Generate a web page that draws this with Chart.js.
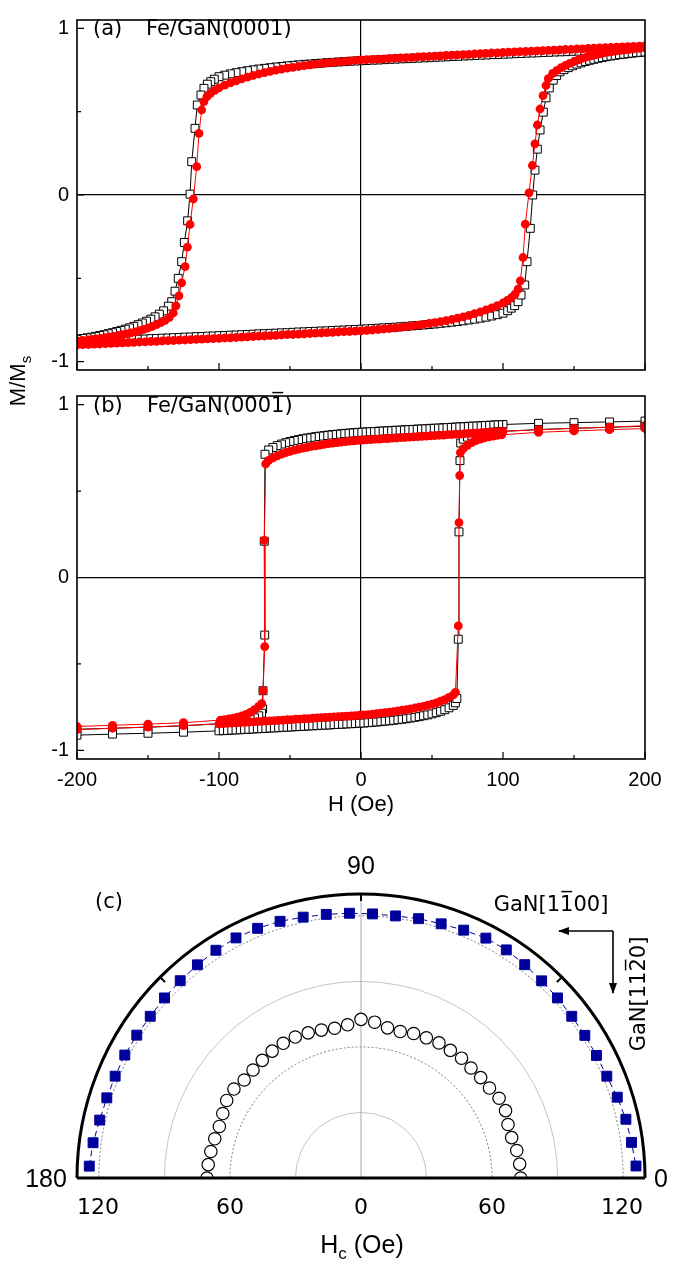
<!DOCTYPE html>
<html>
<head>
<meta charset="utf-8">
<script src="https://cdn.jsdelivr.net/npm/chart.js"></script>
<style>
html, body { margin: 0; padding: 0; width: 682px; height: 1264px; overflow: hidden; background: #fff; }
canvas { position: absolute; left: 0; }
.t { position: absolute; white-space: nowrap; line-height: 1; color: #000; transform: translate(-50%, -50%); }
.l { position: absolute; white-space: nowrap; line-height: 1; color: #000; transform: translateY(-50%); }
.dv { font-family: 'DejaVu Sans', sans-serif; }
.ls { font-family: 'Liberation Sans', Arial, sans-serif; }
</style>
</head>
<body>
<canvas id="loopA" width="682" height="390" style="top:0"></canvas>
<canvas id="loopB" width="682" height="454" style="top:376px"></canvas>
<canvas id="polarGrid" width="682" height="612" style="top:850px"></canvas>
<canvas id="polarBlue" width="682" height="612" style="top:850px"></canvas>

<div class="t ls" style="left:20px;top:381px;font-size:22px;transform:translate(-50%,-50%) rotate(-90deg)">M/M<sub style="font-size:15px">s</sub></div>
<div class="l dv" style="left:93px;top:28px;font-size:21px">(a)</div>
<div class="l dv" style="left:146px;top:28px;font-size:21px">Fe/GaN(0001)</div>
<div class="l dv" style="left:93px;top:405px;font-size:21px">(b)</div>
<div class="l dv" style="left:147px;top:405px;font-size:21px">Fe/GaN(0001&#x305;)</div>

<div class="t dv" style="left:109px;top:901px;font-size:21px">(c)</div>
<div class="t ls" style="left:361px;top:865px;font-size:25px">90</div>
<div class="t ls" style="left:46px;top:1178px;font-size:25px">180</div>
<div class="t ls" style="left:661px;top:1178px;font-size:25px">0</div>
<div class="t dv" style="left:98px;top:1207px;font-size:22px">120</div>
<div class="t dv" style="left:230px;top:1207px;font-size:22px">60</div>
<div class="t dv" style="left:361px;top:1207px;font-size:22px">0</div>
<div class="t dv" style="left:492px;top:1207px;font-size:22px">60</div>
<div class="t dv" style="left:622px;top:1207px;font-size:22px">120</div>
<div class="t ls" style="left:362px;top:1247px;font-size:25px">H<sub style="font-size:17px">c</sub> (Oe)</div>
<div class="t dv" style="left:551px;top:904px;font-size:21px">GaN[11&#x305;00]</div>
<div class="t dv" style="left:638px;top:994px;font-size:21px;transform:translate(-50%,-50%) rotate(-90deg)">GaN[112&#x305;0]</div>
<svg style="position:absolute;left:540px;top:915px" width="90" height="90">
  <defs>
    <marker id="ah" markerWidth="11" markerHeight="8" refX="10" refY="4" orient="auto" markerUnits="userSpaceOnUse">
      <path d="M0,0 L11,4 L0,8 z" fill="#000"/>
    </marker>
  </defs>
  <path d="M73,16 L19,16" stroke="#000" stroke-width="1.6" fill="none" marker-end="url(#ah)"/>
  <path d="M73,16 L73,78" stroke="#000" stroke-width="1.6" fill="none" marker-end="url(#ah)"/>
</svg>

<script>
// tick values
const hTicks = [-200, -150, -100, -50, 0, 50, 100, 150, 200];
const mTicks = [-1, -0.5, 0, 0.5, 1];
const polarGridValues = [0, 30, 60, 90, 120, 130];

// (a) Fe/GaN(0001) - field grids
const aGridDown = [200,196,192,188,184,180,176,172,168,164,160,156,152,148,144,140,136,132,128,124,120,116,112,108,104,100,
  96,92,88,84,80,76,72,68,64,60,56,52,48,44,40,36,32,28,24,20,16,12,8,4,0,
  -4,-8,-12,-16,-20,-24,-28,-32,-36,-40,-44,-48,-52,-56,-60,-64,-68,-72,-76,-80,-84,-88,-92,-96,-100];
const aGridUp = [-200,-196,-192,-188,-184,-180,-176,-172,-168,-164,-160,-156,-152,-148,-144,-140,-136,-132,-128,-124,-120,-116,-112,-108,-104,-100,
  -96,-92,-88,-84,-80,-76,-72,-68,-64,-60,-56,-52,-48,-44,-40,-36,-32,-28,-24,-20,-16,-12,-8,-4,0,
  4,8,12,16,20,24,28,32,36,40,44,48,52,56,60,64,68,72,76,80,84,88,92,96,100];

const aBlackDownH = aGridDown.concat([-103.3,-105.8,-108.2,-110.6,-112.7,-115.3,-116.9,-119.2,-120.4,-122.1,-124.4,-126.3,-128.7,-131,-133.3,-135.7,
  -139,-142,-145,-148,-151,-154,-157,-160,-163,-166,-169,-172,-175,-178,-181,-184,-187,-190,-193,-196,-200]);
const aBlackDownM = [0.880,0.879,0.877,0.876,0.874,0.873,0.872,0.870,0.869,0.867,0.866,0.865,0.863,0.862,0.860,0.859,0.858,0.856,0.855,0.853,0.852,0.851,0.849,0.848,0.846,0.845,
  0.843,0.842,0.840,0.839,0.837,0.835,0.834,0.832,0.831,0.829,0.828,0.826,0.824,0.823,0.821,0.820,0.818,0.817,0.815,0.814,0.812,0.810,0.809,0.807,0.806,
  0.804,0.802,0.800,0.798,0.796,0.794,0.791,0.789,0.786,0.784,0.781,0.778,0.775,0.771,0.768,0.764,0.760,0.756,0.751,0.746,0.740,0.734,0.727,0.719,0.710,
  0.695,0.680,0.665,0.640,0.600,0.540,0.400,0.200,0.005,-0.155,-0.285,-0.400,-0.500,-0.577,-0.640,-0.667,
  -0.695,-0.715,-0.731,-0.745,-0.757,-0.768,-0.778,-0.788,-0.797,-0.805,-0.812,-0.819,-0.826,-0.832,-0.838,-0.843,-0.848,-0.853,-0.857,-0.861,-0.866];

const aBlackUpH = aGridUp.concat([103.3,105.8,108.2,110.6,112.7,115.3,116.9,119.2,120.9,122.5,124.2,126.1,128.4,130.3,132.6,135.4,137.8,140.1,
  143,146,149,152,155,158,161,164,167,170,173,176,179,182,185,188,191,194,197,200]);
const aBlackUpM = [-0.882,-0.880,-0.879,-0.877,-0.876,-0.874,-0.873,-0.871,-0.870,-0.868,-0.867,-0.865,-0.864,-0.862,-0.861,-0.859,-0.858,-0.856,-0.855,-0.853,-0.852,-0.850,-0.849,-0.847,-0.846,-0.844,
  -0.843,-0.841,-0.840,-0.838,-0.837,-0.835,-0.833,-0.832,-0.830,-0.829,-0.827,-0.826,-0.824,-0.822,-0.821,-0.819,-0.818,-0.816,-0.815,-0.813,-0.811,-0.810,-0.808,-0.807,-0.805,
  -0.803,-0.801,-0.799,-0.797,-0.795,-0.793,-0.790,-0.788,-0.785,-0.783,-0.780,-0.777,-0.774,-0.770,-0.767,-0.763,-0.759,-0.755,-0.750,-0.745,-0.739,-0.733,-0.726,-0.718,-0.709,
  -0.694,-0.679,-0.664,-0.640,-0.600,-0.540,-0.400,-0.200,0.000,0.149,0.275,0.390,0.497,0.583,0.642,0.689,0.717,0.739,
  0.752,0.764,0.775,0.785,0.793,0.801,0.808,0.814,0.820,0.825,0.830,0.834,0.838,0.842,0.845,0.848,0.851,0.854,0.856,0.858];

const aRedDownH = aGridDown.concat([-103,-106,-108.5,-110.6,-112.2,-114.1,-115.7,-118.1,-120.4,-122.3,-123.9,-126.3,-128.2,-130.3,-132.2,
  -135,-138,-141,-144,-147,-150,-153,-156,-159,-162,-165,-168,-171,-174,-177,-180,-183,-186,-189,-192,-196,-200]);
const aRedDownM = [0.895,0.893,0.892,0.890,0.889,0.887,0.885,0.884,0.882,0.881,0.879,0.877,0.876,0.874,0.873,0.871,0.869,0.868,0.866,0.865,0.863,0.861,0.860,0.858,0.857,0.855,
  0.853,0.852,0.850,0.848,0.846,0.844,0.842,0.841,0.839,0.837,0.835,0.833,0.832,0.830,0.828,0.826,0.824,0.823,0.821,0.819,0.817,0.815,0.814,0.812,0.810,
  0.808,0.805,0.802,0.799,0.796,0.793,0.789,0.785,0.781,0.776,0.771,0.766,0.761,0.755,0.749,0.742,0.734,0.726,0.717,0.707,0.697,0.685,0.673,0.659,0.643,
  0.628,0.610,0.590,0.560,0.510,0.370,0.170,-0.024,-0.177,-0.313,-0.430,-0.527,-0.605,-0.665,-0.708,
  -0.735,-0.752,-0.766,-0.778,-0.789,-0.798,-0.806,-0.814,-0.821,-0.827,-0.833,-0.838,-0.843,-0.848,-0.852,-0.856,-0.860,-0.863,-0.866,-0.869,-0.872,-0.875];

const aRedUpH = aGridUp.concat([103,106,108.5,110.6,112.2,114.1,115.7,118.3,120.7,122.5,124.2,126.1,128.2,130.3,131.9,
  135,138,141,144,147,150,153,156,159,162,165,168,171,174,177,180,183,186,189,192,196,200]);
const aRedUpM = [-0.900,-0.898,-0.897,-0.895,-0.894,-0.892,-0.890,-0.889,-0.887,-0.886,-0.884,-0.882,-0.881,-0.879,-0.878,-0.876,-0.874,-0.873,-0.871,-0.870,-0.868,-0.866,-0.865,-0.863,-0.862,-0.860,
  -0.858,-0.857,-0.855,-0.853,-0.851,-0.849,-0.847,-0.846,-0.844,-0.842,-0.840,-0.838,-0.837,-0.835,-0.833,-0.831,-0.829,-0.828,-0.826,-0.824,-0.822,-0.820,-0.819,-0.817,-0.815,
  -0.813,-0.810,-0.807,-0.804,-0.801,-0.798,-0.794,-0.790,-0.786,-0.781,-0.776,-0.771,-0.766,-0.760,-0.754,-0.747,-0.739,-0.731,-0.722,-0.712,-0.702,-0.690,-0.678,-0.664,-0.648,
  -0.633,-0.615,-0.595,-0.565,-0.515,-0.375,-0.175,0.013,0.177,0.307,0.420,0.516,0.596,0.657,0.698,
  0.730,0.748,0.764,0.778,0.790,0.801,0.811,0.820,0.828,0.835,0.841,0.847,0.852,0.857,0.861,0.865,0.868,0.871,0.874,0.877,0.880,0.883];

// (b) Fe/GaN(000-1) - field grids
const bDenseDown = [100,97,94,91,88,85,82,79,76,73,70,67,64,61,58,55,52,49,46,43,40,37,34,31,28,25,22,19,16,13,10,7,4,1,-2,-5,-8,-11,-14,-17,-20,-23,-26,-29,-32,-35,-38,-41,-44,-47,-50,-53,-56,-59,-62,-65];
const bDenseUp = [-100,-97,-94,-91,-88,-85,-82,-79,-76,-73,-70,-67,-64,-61,-58,-55,-52,-49,-46,-43,-40,-37,-34,-31,-28,-25,-22,-19,-16,-13,-10,-7,-4,-1,2,5,8,11,14,17,20,23,26,29,32,35,38,41,44,47,50,53,56,59,62,65];

const bBlackDownH = [200,175,150,125].concat(bDenseDown, [-67.6,-68.1,-67.8,-69,-69.3,-70,-72,-75,-78,-81,-84,-87,-90,-93,-96,-99,-125,-150,-175,-200]);
const bBlackDownM = [0.905,0.900,0.896,0.892,
  0.885,0.884,0.883,0.881,0.880,0.879,0.877,0.876,0.875,0.873,0.872,0.871,0.869,0.868,0.867,0.865,0.864,0.863,0.861,0.860,0.859,0.857,0.856,0.855,0.853,0.852,0.851,0.849,0.848,0.847,0.845,0.844,0.843,0.841,
  0.840,0.838,0.836,0.834,0.832,0.829,0.827,0.824,0.821,0.818,0.815,0.811,0.807,0.803,0.798,0.793,0.787,0.780,0.772,0.763,0.752,0.738,
  0.713,0.210,-0.333,-0.655,-0.760,-0.785,
  -0.800,-0.812,-0.820,-0.826,-0.831,-0.835,-0.838,-0.841,-0.843,-0.845,
  -0.858,-0.866,-0.872,-0.878];

const bBlackUpH = [-200,-175,-150,-125].concat(bDenseUp, [66.5,67.5,68.5,69,69.7,70.2,72,75,78,81,84,87,90,93,96,99,125,150,175,200]);
const bBlackUpM = [-0.912,-0.906,-0.901,-0.895,
  -0.887,-0.886,-0.885,-0.883,-0.882,-0.881,-0.879,-0.878,-0.877,-0.875,-0.874,-0.873,-0.871,-0.870,-0.869,-0.867,-0.866,-0.865,-0.863,-0.862,-0.861,-0.859,-0.858,-0.857,-0.855,-0.854,-0.853,-0.851,-0.850,-0.849,-0.847,-0.846,-0.845,-0.843,
  -0.842,-0.840,-0.838,-0.836,-0.834,-0.831,-0.829,-0.826,-0.823,-0.820,-0.817,-0.813,-0.809,-0.805,-0.800,-0.795,-0.789,-0.782,-0.774,-0.765,-0.754,-0.740,
  -0.725,-0.700,-0.357,0.264,0.676,0.778,
  0.800,0.812,0.820,0.826,0.831,0.835,0.838,0.841,0.843,0.845,
  0.856,0.863,0.869,0.875];

const bRedDownH = [200,175,150,125].concat(bDenseDown, [-67.1,-68.1,-67.8,-69,-69.9,-72,-75,-78,-81,-84,-87,-90,-93,-96,-99,-125,-150,-175,-200]);
const bRedDownM = [0.878,0.870,0.863,0.855,
  0.845,0.844,0.842,0.841,0.839,0.838,0.836,0.835,0.833,0.832,0.830,0.829,0.827,0.826,0.824,0.823,0.821,0.820,0.818,0.817,0.815,0.814,0.812,0.810,0.809,0.807,0.806,0.804,0.803,0.801,0.800,0.798,0.797,0.795,
  0.793,0.791,0.789,0.786,0.783,0.780,0.777,0.774,0.770,0.766,0.762,0.758,0.753,0.748,0.743,0.737,0.730,0.723,0.714,0.704,0.692,0.677,
  0.657,0.215,-0.400,-0.655,-0.730,
  -0.745,-0.765,-0.780,-0.792,-0.801,-0.808,-0.814,-0.818,-0.822,-0.825,
  -0.840,-0.848,-0.855,-0.862];

const bRedUpH = [-200,-175,-150,-125].concat(bDenseUp, [66.5,68.5,69,69.5,70,72,75,78,81,84,87,90,93,96,99,125,150,175,200]);
const bRedUpM = [-0.880,-0.872,-0.865,-0.857,
  -0.847,-0.846,-0.844,-0.843,-0.841,-0.840,-0.838,-0.837,-0.835,-0.834,-0.832,-0.831,-0.829,-0.828,-0.826,-0.825,-0.823,-0.822,-0.820,-0.819,-0.817,-0.816,-0.814,-0.812,-0.811,-0.809,-0.808,-0.806,-0.805,-0.803,-0.802,-0.800,-0.799,-0.797,
  -0.795,-0.793,-0.791,-0.788,-0.785,-0.782,-0.779,-0.776,-0.772,-0.768,-0.764,-0.760,-0.755,-0.750,-0.745,-0.739,-0.732,-0.725,-0.716,-0.706,-0.694,-0.679,
  -0.665,-0.280,0.318,0.590,0.722,
  0.745,0.765,0.780,0.792,0.801,0.808,0.814,0.818,0.822,0.825,
  0.840,0.848,0.855,0.862];

// (c) coercive field vs in-plane angle
const openAngles = [180,175,170,165,160,155,150,145,140,135,130,125,120,115,110,105,100,95,90,85,80,75,70,65,60,55,50,45,40,35,30,25,20,15,10,5,0];
const hcOpen = [70.5,70.2,69.8,69.3,69.0,69.8,71.0,71.0,69.8,69.9,70.3,70.9,71.2,71.2,70.7,70.1,69.6,70.4,72.6,71.6,69.8,69.4,70.4,70.8,71.4,71.3,71.6,71.2,71.5,71.8,73.0,73.0,71.6,71.4,72.4,72.9,73.1];
const blueAngles = [177.5,172.5,167.5,162.5,157.5,152.5,147.5,142.5,137.5,132.5,127.5,122.5,117.5,112.5,107.5,102.5,97.5,92.5,87.5,82.5,77.5,72.5,67.5,62.5,57.5,52.5,47.5,42.5,37.5,32.5,27.5,22.5,17.5,12.5,7.5,2.5];
const hcBlue = [124.5,123.7,122.5,122.0,121.8,121.9,121.7,121.6,122.0,122.5,123.0,123.6,123.9,123.7,123.2,122.3,121.7,121.3,121.0,121.0,121.6,122.0,122.8,123.8,123.8,123.1,122.4,122.0,121.6,121.5,121.5,121.8,123.0,124.2,124.9,126.0];

Chart.defaults.font.family = "'Liberation Sans', Arial, sans-serif";
Chart.defaults.color = '#000';

function pts(h, m) {
    return h.map((x, i) => ({ x: x, y: m[i] }));
}

// box frame + inward ticks (Origin style)
const loopFrame = {
    id: 'loopFrame',
    afterDraw(chart) {
        const ctx = chart.ctx, a = chart.chartArea, x = chart.scales.x, y = chart.scales.y;
        ctx.save();
        ctx.strokeStyle = '#000';
        ctx.lineWidth = 1.2;
        ctx.beginPath();
        x.ticks.forEach(t => {
            const px = x.getPixelForValue(t.value);
            const len = t.value % 100 === 0 ? 7 : 4;
            ctx.moveTo(px, a.bottom);
            ctx.lineTo(px, a.bottom - len);
        });
        y.ticks.forEach(t => {
            const py = y.getPixelForValue(t.value);
            const len = Number.isInteger(t.value) ? 7 : 4;
            ctx.moveTo(a.left, py);
            ctx.lineTo(a.left + len, py);
        });
        ctx.stroke();
        ctx.lineWidth = 1.6;
        ctx.strokeRect(a.left, a.top, a.right - a.left, a.bottom - a.top);
        ctx.restore();
    }
};

const zeroLine = c => (c.tick && c.tick.value === 0) ? '#000' : 'rgba(0,0,0,0)';

function createLoopChart(canvasId, loop, showX) {
    return new Chart(document.getElementById(canvasId), {
        type: 'scatter',
        data: {
            datasets: [{
                label: 'red',
                data: pts(loop.redDownH, loop.redDownM).concat(pts(loop.redUpH, loop.redUpM)),
                showLine: true,
                borderColor: '#ff0000',
                borderWidth: 1,
                pointStyle: 'circle',
                pointRadius: 4.4,
                pointBackgroundColor: '#ff0000',
                pointBorderColor: '#ff0000',
                pointBorderWidth: 0
            }, {
                label: 'black',
                data: pts(loop.blackDownH, loop.blackDownM).concat(pts(loop.blackUpH, loop.blackUpM)),
                showLine: true,
                borderColor: '#000000',
                borderWidth: 1,
                pointStyle: 'rect',
                pointRadius: 5.6,
                pointBackgroundColor: '#ffffff',
                pointBorderColor: '#000000',
                pointBorderWidth: 1
            }]
        },
        options: {
            responsive: false,
            animation: false,
            layout: { padding: { left: 0, right: 37, top: 7, bottom: showX ? 0 : 7 } },
            plugins: { legend: { display: false }, tooltip: { enabled: false } },
            scales: {
                x: {
                    type: 'linear',
                    min: -200,
                    max: 200,
                    afterBuildTicks: s => { s.ticks = hTicks.map(v => ({ value: v })); },
                    afterFit: s => { s.height = showX ? 71 : 0; },
                    ticks: {
                        display: showX,
                        autoSkip: false,
                        maxRotation: 0,
                        padding: 9,
                        font: { size: 20 },
                        callback: v => v % 100 === 0 ? String(v) : ''
                    },
                    grid: { drawTicks: false, lineWidth: 1.2, color: zeroLine },
                    border: { display: false },
                    title: { display: showX, text: 'H (Oe)', font: { size: 22 }, padding: { top: 0, bottom: 12 } }
                },
                y: {
                    type: 'linear',
                    min: -1.05,
                    max: 1.05,
                    bounds: 'data',
                    afterBuildTicks: s => { s.ticks = mTicks.map(v => ({ value: v })); },
                    afterFit: s => { s.width = 77; },
                    ticks: {
                        padding: 8,
                        font: { size: 20 },
                        callback: v => Number.isInteger(v) ? String(v) : ''
                    },
                    grid: { drawTicks: false, lineWidth: 1.2, color: zeroLine },
                    border: { display: false }
                }
            }
        },
        plugins: [loopFrame]
    });
}

createLoopChart('loopA', {
    blackDownH: aBlackDownH, blackDownM: aBlackDownM, blackUpH: aBlackUpH, blackUpM: aBlackUpM,
    redDownH: aRedDownH, redDownM: aRedDownM, redUpH: aRedUpH, redUpM: aRedUpM
}, false);

createLoopChart('loopB', {
    blackDownH: bBlackDownH, blackDownM: bBlackDownM, blackUpH: bBlackUpH, blackUpM: bBlackUpM,
    redDownH: bRedDownH, redDownM: bRedDownM, redUpH: bRedUpH, redUpM: bRedUpM
}, true);

// keep only the upper half of the polar plot
const halfClip = {
    id: 'halfClip',
    beforeDraw(chart) {
        const r = chart.scales.r;
        chart.ctx.save();
        chart.ctx.beginPath();
        chart.ctx.rect(0, 0, chart.width, r.yCenter);
        chart.ctx.clip();
    },
    afterDatasetsDraw(chart) {
        chart.ctx.restore();
    }
};

const polarFrame = {
    id: 'polarFrame',
    afterDraw(chart) {
        const r = chart.scales.r, ctx = chart.ctx;
        const outer = r.getDistanceFromCenterForValue(r.max);
        ctx.save();
        ctx.strokeStyle = '#000';
        ctx.lineWidth = 3;
        ctx.beginPath();
        ctx.moveTo(r.xCenter - outer, r.yCenter);
        ctx.lineTo(r.xCenter + outer, r.yCenter);
        ctx.stroke();
        ctx.lineWidth = 2;
        ctx.beginPath();
        [9, 18, 27].forEach(i => {
            const p0 = r.getPointPosition(i, outer);
            const p1 = r.getPointPosition(i, outer - 7);
            ctx.moveTo(p0.x, p0.y);
            ctx.lineTo(p1.x, p1.y);
        });
        ctx.stroke();
        ctx.restore();
    }
};

function radialScale(show, startAngle) {
    return {
        display: show,
        min: 0,
        max: 130,
        startAngle: startAngle,
        afterBuildTicks: s => { s.ticks = polarGridValues.map(v => ({ value: v })); },
        ticks: { display: false },
        pointLabels: { display: false },
        grid: {
            circular: true,
            color: c => c.tick.value === 130 ? '#000' : (c.tick.value % 60 === 0 ? '#7a7a7a' : '#c4c4c4'),
            lineWidth: c => c.tick.value === 130 ? 3 : 1
        },
        border: { dash: c => (c.tick && c.tick.value % 60 === 0 && c.tick.value !== 0) ? [2, 2] : [] },
        angleLines: { color: '#a8a8a8', lineWidth: c => c.index === 18 ? 1 : 0 }
    };
}

new Chart(document.getElementById('polarGrid'), {
    type: 'radar',
    data: {
        labels: openAngles.concat(Array(35).fill('')),
        datasets: [{
            label: 'open',
            data: hcOpen,
            showLine: false,
            fill: false,
            pointStyle: 'circle',
            pointRadius: 6.2,
            pointBackgroundColor: '#ffffff',
            pointBorderColor: '#000000',
            pointBorderWidth: 1.2
        }]
    },
    options: {
        responsive: false,
        animation: false,
        layout: { padding: { left: 40, top: 44, right: 0, bottom: 0 } },
        plugins: { legend: { display: false }, tooltip: { enabled: false } },
        scales: { r: radialScale(true, 270) }
    },
    plugins: [halfClip, polarFrame]
});

new Chart(document.getElementById('polarBlue'), {
    type: 'radar',
    data: {
        labels: blueAngles.concat(Array(36).fill('')),
        datasets: [{
            label: 'blue',
            data: hcBlue,
            fill: false,
            borderColor: '#00009c',
            borderWidth: 1,
            borderDash: [6, 4],
            pointStyle: 'rect',
            pointRadius: 7,
            pointBackgroundColor: '#00009c',
            pointBorderColor: '#00009c',
            pointBorderWidth: 1
        }]
    },
    options: {
        responsive: false,
        animation: false,
        layout: { padding: { left: 40, top: 44, right: 0, bottom: 0 } },
        plugins: { legend: { display: false }, tooltip: { enabled: false } },
        scales: { r: radialScale(false, 272.5) }
    }
});
</script>
</body>
</html>
